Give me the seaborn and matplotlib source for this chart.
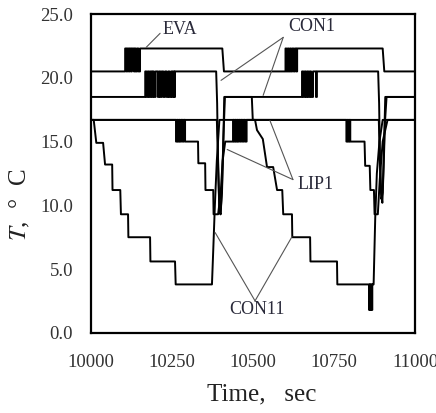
import pandas as pd
import seaborn as sns
import matplotlib.pyplot as plt

# ---- data (time in sec, temperature in deg C) ----
EVA_CH1 = [10105, 10109, 10112, 10116, 10119, 10123, 10126, 10132, 10135, 10138, 10142, 10146, 10151]
EVA_CH2 = [10600, 10603, 10607, 10610, 10614, 10617, 10621, 10625, 10629, 10633, 10636]
CON1_CH1 = [10167, 10171, 10175, 10179, 10183, 10187, 10190, 10194, 10199, 10206, 10210, 10214,
            10218, 10223, 10228, 10233, 10238, 10242, 10247, 10251, 10254, 10257, 10259]
CON1_CH2 = [10651, 10655, 10659, 10663, 10667, 10671, 10675, 10679, 10685, 10694, 10697]
LIP1_CH1 = [10262, 10265, 10268, 10271, 10274, 10278, 10282, 10286, 10290]
LIP1_CH2 = [10438, 10441, 10444, 10447, 10450, 10453, 10456, 10460, 10463, 10467, 10471, 10475, 10480]
LIP1_CH3 = [10788, 10791, 10794, 10797, 10800]
CON11_CH = [10858, 10860, 10862, 10864, 10866, 10868]

eva_t1, eva_T1 = [10000], [20.5]
eva_t2, eva_T2 = [10405, 10410], [22.3, 20.5]
eva_t3, eva_T3 = [10900, 10905, 11000], [22.3, 20.5, 20.5]

con1a_t1, con1a_T1 = [10000], [18.5]
con1a_t2 = [10386, 10389, 10392, 10396, 10400, 10404, 10408, 10411]
con1a_T2 = [20.5, 18.0, 13.0, 9.5, 9.3, 11.5, 15.0, 18.5]
con1a_t3 = [10886, 10889, 10892, 10896, 10900, 10904, 10908, 11000]
con1a_T3 = [20.5, 18.0, 13.0, 10.5, 11.0, 14.5, 18.5, 18.5]

con1b_t = [10000, 10388, 10391, 10395, 10399, 10404, 10408, 10413, 10496, 10499,
           10888, 10891, 10895, 10899, 10903, 10907, 10912, 11000]
con1b_T = [16.7, 16.7, 14.5, 10.5, 9.3, 11.0, 15.0, 18.5, 18.5, 16.7,
           16.7, 14.0, 11.0, 10.2, 13.0, 16.5, 18.5, 18.5]

lip1_t1, lip1_T1 = [10000], [16.7]
lip1_t2 = [10330, 10331, 10352, 10353, 10377, 10378, 10392, 10400, 10406, 10414]
lip1_T2 = [15.0, 13.3, 13.3, 11.2, 11.2, 9.3, 9.3, 11.0, 13.5, 15.0]
lip1_t3 = [10844, 10846, 10860, 10862, 10873, 10875, 10885, 10891, 10900, 10915, 11000]
lip1_T3 = [15.0, 13.1, 13.1, 11.2, 11.2, 9.3, 9.3, 12.0, 15.0, 16.7, 16.7]

con11_t1 = [10000, 10008, 10016, 10037, 10043, 10065, 10066, 10090, 10092, 10114, 10115,
            10182, 10183, 10259, 10261, 10373, 10377, 10382, 10388, 10396,
            10506, 10512, 10530, 10543, 10562, 10574, 10590, 10593, 10620, 10621,
            10676, 10677, 10759, 10760]
con11_T1 = [16.7, 16.7, 14.9, 14.9, 13.2, 13.2, 11.2, 11.2, 9.3, 9.3, 7.5,
            7.5, 5.6, 5.6, 3.8, 3.8, 6.5, 10.0, 13.5, 16.7,
            16.7, 15.9, 15.2, 13.0, 13.0, 11.2, 11.2, 9.3, 9.3, 7.5,
            7.5, 5.6, 5.6, 3.8]
con11_t2 = [10872, 10877, 10882, 10890, 10900, 11000]
con11_T2 = [3.8, 9.0, 12.5, 15.0, 16.7, 16.7]


def toggle(times, a, b):
    # on/off chatter between two levels at the listed switching times
    ts, ys, level = [], [], a
    for t in times:
        nxt = b if level == a else a
        ts += [t, t]
        ys += [level, nxt]
        level = nxt
    return ts, ys


def build(name, *parts):
    ts, ys = [], []
    for t, y in parts:
        ts += list(t)
        ys += list(y)
    return pd.DataFrame({"t": ts, "T": ys, "series": name})


df = pd.concat([
    build("EVA", (eva_t1, eva_T1), toggle(EVA_CH1, 20.5, 22.3), (eva_t2, eva_T2),
          toggle(EVA_CH2, 20.5, 22.3), (eva_t3, eva_T3)),
    build("CON1a", (con1a_t1, con1a_T1), toggle(CON1_CH1, 18.5, 20.5), (con1a_t2, con1a_T2),
          toggle(CON1_CH2, 18.5, 20.5), (con1a_t3, con1a_T3)),
    build("CON1b", (con1b_t, con1b_T)),
    build("LIP1", (lip1_t1, lip1_T1), toggle(LIP1_CH1, 16.7, 15.0), (lip1_t2, lip1_T2),
          toggle(LIP1_CH2, 15.0, 16.7), toggle(LIP1_CH3, 16.7, 15.0), (lip1_t3, lip1_T3)),
    build("CON11", (con11_t1, con11_T1), toggle(CON11_CH, 3.8, 1.8), (con11_t2, con11_T2)),
], ignore_index=True)

sns.set_style("white")
plt.rcParams["font.family"] = ["Liberation Serif", "DejaVu Serif"]
plt.rcParams["mathtext.fontset"] = "stix"

fig = plt.figure(figsize=(4.36, 4.13), dpi=100)
ax = fig.add_axes([0.209, 0.194, 0.743, 0.772])

sns.lineplot(data=df, x="t", y="T", units="series", estimator=None, sort=False,
             color="black", lw=1.4, ax=ax, legend=False)

ax.set_xlim(10000, 11000)
ax.set_ylim(0, 25)
ax.set_xticks([10000, 10250, 10500, 10750, 11000])
ax.set_yticks([0, 5, 10, 15, 20, 25])
ax.set_yticklabels([f"{v:.1f}" for v in [0, 5, 10, 15, 20, 25]])
ax.tick_params(direction="in", length=5, width=1.2, labelsize=13.5, labelcolor="#333333")
ax.tick_params(axis="x", pad=15)
ax.tick_params(axis="y", pad=13)
for s in ax.spines.values():
    s.set_linewidth(1.6)
    s.set_color("black")
ax.set_xlabel("")
ax.set_ylabel("")

fig.text(0.601, 0.044, "Time,   sec", ha="center", va="center", fontsize=18, color="#222222")
fig.text(0.046, 0.503, r"$T$,  °  C", ha="center", va="center", rotation=90,
         fontsize=18, color="#222222")

# labels with leader lines
lead = dict(arrowstyle="-", lw=0.8, color="#555555", shrinkA=0, shrinkB=0)
lab = dict(fontsize=13, color="#2a2a3a", ha="center", va="center")
ax.text(10275, 23.8, "EVA", **lab)
ax.annotate("", xy=(10170, 22.39), xytext=(10213, 23.49), arrowprops=lead)
ax.text(10682, 24.04, "CON1", **lab)
ax.annotate("", xy=(10401, 19.8), xytext=(10593, 23.17), arrowprops=lead)
ax.annotate("", xy=(10531, 18.62), xytext=(10593, 23.17), arrowprops=lead)
ax.text(10694, 11.63, "LIP1", **lab)
ax.annotate("", xy=(10552, 16.65), xytext=(10623, 12.02), arrowprops=lead)
ax.annotate("", xy=(10420, 14.38), xytext=(10623, 12.02), arrowprops=lead)
ax.text(10512, 1.8, "CON11", **lab)
ax.annotate("", xy=(10383, 7.86), xytext=(10506, 2.51), arrowprops=lead)
ax.annotate("", xy=(10620, 7.54), xytext=(10506, 2.51), arrowprops=lead)

fig.savefig("out.png", dpi=100)
